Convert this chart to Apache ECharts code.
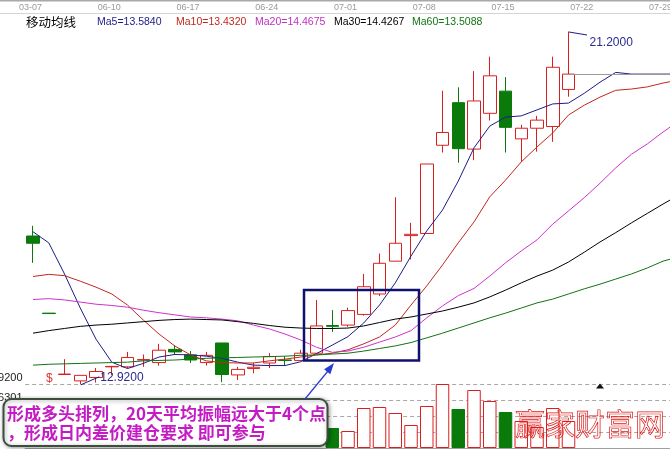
<!DOCTYPE html>
<html><head><meta charset="utf-8">
<script src="https://cdn.jsdelivr.net/npm/echarts/dist/echarts.min.js"></script>
<style>html,body{margin:0;padding:0;background:#fff;overflow:hidden}#c{width:670px;height:449px}</style>
</head><body><div id="c"></div>
<script>
// ---- data ----
const dates = ['03-07','06-04','06-05','06-06','06-09','06-10','06-11','06-12','06-13','06-16',
  '06-17','06-18','06-19','06-20','06-23','06-24','06-25','06-26','06-27','06-30',
  '07-01','07-02','07-03','07-04','07-07','07-08','07-09','07-10','07-11','07-14',
  '07-15','07-16','07-17','07-18','07-21','07-22','07-23','07-24','07-25','07-28','07-29','07-30'];
// [open, close, low, high]
const candles = [
  [16.40,16.23,15.77,16.64],[14.59,14.58,14.58,14.59],[13.15,13.16,13.15,13.51],[13.00,13.13,12.92,13.13],
  [13.08,13.22,12.96,13.30],[13.33,13.34,13.14,13.35],[13.33,13.55,13.29,13.68],[13.49,13.50,13.33,13.62],
  [13.43,13.72,13.36,13.87],[13.74,13.68,13.61,13.84],[13.61,13.49,13.42,13.70],[13.43,13.60,13.36,13.68],
  [13.89,13.15,12.97,13.89],[13.14,13.27,13.02,13.33],[13.29,13.32,13.18,13.43],[13.42,13.57,13.30,13.65],
  [13.49,13.48,13.35,13.58],[13.48,13.65,13.47,13.73],[13.65,14.29,13.64,14.90],[14.30,14.28,14.15,14.66],
  [14.31,14.65,14.27,14.72],[14.56,15.21,14.53,15.51],[15.04,15.76,14.99,15.99],[15.81,16.23,15.81,17.31],
  [16.41,16.44,15.85,16.71],[16.46,18.09,16.46,18.09],[18.53,18.83,18.36,19.81],[19.53,18.45,18.12,19.89],
  [18.44,19.57,18.18,20.27],[19.28,20.16,19.11,20.61],[19.80,18.95,18.36,20.13],[18.68,18.93,18.14,19.01],
  [18.93,19.12,18.38,19.22],[18.97,20.36,18.61,20.61],[19.84,20.20,19.67,21.20]
];
const ma5  = [16.50,16.24,15.51,14.71,13.98,13.44,13.29,13.41,13.56,13.62,13.61,13.58,13.53,13.44,13.37,13.36,13.36,13.45,13.64,13.84,14.04,14.36,14.78,15.30,15.93,16.52,17.01,17.69,18.47,18.98,19.19,19.22,19.36,19.50,19.52,19.75,20.01,20.24,20.20,20.20,20.20,20.20];
const ma10 = [15.45,15.50,15.47,15.34,15.20,15.04,14.78,14.43,14.10,13.82,13.61,13.47,13.43,13.42,13.42,13.47,13.51,13.56,13.61,13.65,13.73,13.87,14.03,14.31,14.78,15.23,15.72,16.24,16.73,17.32,17.71,18.14,18.49,18.82,19.24,19.47,19.66,19.82,19.85,19.90,19.99,20.06];
const ma20 = [14.91,14.93,14.90,14.85,14.80,14.77,14.73,14.66,14.60,14.55,14.50,14.48,14.45,14.41,14.31,14.22,14.10,13.96,13.79,13.67,13.70,13.79,13.91,14.03,14.18,14.48,14.76,15.00,15.17,15.46,15.77,16.05,16.31,16.68,16.99,17.30,17.64,18.00,18.32,18.56,18.84,19.10];
const ma30 = [14.12,14.18,14.23,14.28,14.31,14.33,14.36,14.39,14.42,14.44,14.45,14.44,14.43,14.39,14.35,14.30,14.26,14.24,14.23,14.23,14.24,14.29,14.37,14.45,14.50,14.57,14.64,14.73,14.83,14.97,15.13,15.30,15.46,15.60,15.79,16.02,16.26,16.48,16.71,16.93,17.15,17.36];
const ma60 = [13.37,13.39,13.40,13.41,13.42,13.43,13.44,13.47,13.48,13.49,13.51,13.53,13.54,13.55,13.56,13.57,13.58,13.60,13.61,13.63,13.65,13.70,13.76,13.82,13.90,14.01,14.12,14.24,14.36,14.48,14.59,14.71,14.83,14.92,15.04,15.16,15.27,15.39,15.51,15.65,15.81,15.91];
// volume (earlier days hidden behind the note box)
const volumes = [null,null,null,null,null,null,null,null,null,null,null,null,null,null,null,null,null,null,null,
  20,17,40,41,35,23,42,64,39,58,47,36,27,21,40,27];
const maNames  = ['Ma5','Ma10','Ma20','Ma30','Ma60'];
const maValues = ['13.5840','13.4320','14.4675','14.4267','13.5088'];
const extremes = [[34,21.20,'21.2000'],[3,12.92,'12.9200']];
const lastClose = 20.20;
const axisPriceLabels = ['12.9200','126301'];
const noteLines = ['形成多头排列，20天平均振幅远大于4个点','，形成日内差价建仓要求 即可参与'];
const watermark = '赢家财富网';

// ---- styles ----
const UP='#d82020', DOWN='#0a7a0a';
const maColors=['#1c1c88','#c0281e','#cc33cc','#000000','#137313'];
const SANS="Arial,'Liberation Sans',sans-serif";
const GL=25.125, GW=661.5;

const chart = echarts.init(document.getElementById('c'));
const isUp = (i)=>{const c=candles[i]; if(c[1]!==c[0]) return c[1]>c[0]; return i>0 ? candles[i-1][1]<=c[1] : true;};

const maSeries = [ma5,ma10,ma20,ma30,ma60].map((d,k)=>({
  type:'line', name:maNames[k], data:d, xAxisIndex:0, yAxisIndex:0, showSymbol:false, symbol:'none',
  lineStyle:{color:maColors[k], width:1}, itemStyle:{color:maColors[k]}, z:3, silent:true, animation:false
}));

const graphics = [
  {type:'line', shape:{x1:0,y1:0.5,x2:670,y2:0.5}, style:{stroke:'#a8a8a8',lineWidth:2}},
  {type:'line', shape:{x1:0,y1:13.5,x2:670,y2:13.5}, style:{stroke:'#d4d4d4',lineWidth:1}},
  {type:'text', x:26, y:22, style:{text:'移动均线', fill:'#000', font:"12.5px 'Noto Sans CJK SC'", verticalAlign:'middle'}}
];
const maX=[97,176,255,334,412];
maNames.forEach((n,k)=>graphics.push({type:'text', x:maX[k], y:22,
  style:{text:n+'='+maValues[k], fill:maColors[k]==='#cc33cc'?'#c030c0':maColors[k], font:'10.5px '+SANS, verticalAlign:'middle'}}));
graphics.push(
  {type:'text', x:22.5, y:378, style:{text:axisPriceLabels[0], fill:'#222', font:'11px '+SANS, align:'right', verticalAlign:'middle'}},
  {type:'text', x:22.5, y:398, style:{text:axisPriceLabels[1], fill:'#222', font:'11px '+SANS, align:'right', verticalAlign:'middle'}},
  {type:'text', x:46, y:378.5, style:{text:'$', fill:'#e03030', font:'12px Arial', verticalAlign:'middle'}},
  {type:'rect', shape:{x:304,y:290,width:115,height:70.5}, style:{fill:'none',stroke:'#10106e',lineWidth:2.5}, z:50},
  {type:'rect', shape:{x:3.5,y:399,width:324,height:47,r:8}, style:{fill:'#fff',stroke:'#3d4d3d',lineWidth:2,shadowBlur:4,shadowColor:'rgba(0,0,0,0.35)',shadowOffsetX:1,shadowOffsetY:1}, z:60},
  {type:'text', x:7, y:414, style:{text:noteLines[0], fill:'#c41cc4', font:"bold 17px 'Noto Sans CJK SC'", verticalAlign:'middle'}, z:61},
  {type:'text', x:7, y:432.5, style:{text:noteLines[1], fill:'#c41cc4', font:"bold 17px 'Noto Sans CJK SC'", verticalAlign:'middle'}, z:61},
  {type:'line', shape:{x1:305,y1:399,x2:328,y2:371}, style:{stroke:'#2a3ad0',lineWidth:1.2}, z:62},
  {type:'polygon', shape:{points:[[334,363],[330.3,374.2],[324.1,369.2]]}, style:{fill:'#2a3ad0'}, z:62},
  {type:'text', x:515, y:424, style:{text:watermark, fill:'rgba(255,255,255,0)', stroke:'#e01818', lineWidth:0.7, font:"30px 'Noto Sans CJK SC'", verticalAlign:'middle'}, z:70}
);

const option = {
  animation:false,
  backgroundColor:'#fff',
  grid:[{left:GL,width:GW,top:31.5,height:352.8,outerBoundsMode:'none',containLabel:false},
        {left:GL,width:GW,top:384,height:64,outerBoundsMode:'none',containLabel:false}],
  xAxis:[
    {type:'category', data:dates, gridIndex:0, position:'top', boundaryGap:true,
     axisLine:{show:false}, axisTick:{show:false}, splitLine:{show:false},
     axisLabel:{interval:4, margin:19, fontSize:9, color:'#9a9a9a', fontFamily:SANS, padding:[0,5,0,0], hideOverlap:false}},
    {type:'category', data:dates, gridIndex:1, boundaryGap:true,
     axisLine:{show:true, lineStyle:{color:'#a0a0a0'}}, axisTick:{show:false}, axisLabel:{show:false}, splitLine:{show:false}}
  ],
  yAxis:[
    {type:'value', gridIndex:0, min:12.92, max:21.2, show:false},
    {type:'value', gridIndex:1, min:0, max:64, interval:16, axisLine:{show:false}, axisTick:{show:false},
     axisLabel:{show:false}, splitLine:{show:true, lineStyle:{type:[4,3], color:'#a8a8a8', width:1}}}
  ],
  graphic: graphics,
  series:[
    {type:'candlestick', name:'K', data:candles, xAxisIndex:0, yAxisIndex:0, barWidth:13, z:2,
     itemStyle:{color:'rgba(255,255,255,0)', color0:DOWN, borderColor:UP, borderColor0:DOWN, borderWidth:1},
     markLine:{silent:true, symbol:['none','none'], label:{show:false}, animation:false,
       lineStyle:{color:'#9a9a9a', type:'solid', width:1},
       data:[[{coord:[dates[candles.length-1], lastClose]},{coord:[dates[dates.length-1], lastClose]}]]}},
    ...maSeries,
    {type:'bar', name:'VOL', xAxisIndex:1, yAxisIndex:1, barWidth:13.5, z:2,
     data: volumes.map((v,i)=> v==null ? '-' : {value:v, itemStyle: isUp(i)
        ? {color:'#fff', borderColor:UP, borderWidth:1}
        : {color:DOWN, borderColor:DOWN, borderWidth:1}}),
     markPoint:{silent:true, symbol:'triangle', symbolSize:[8,5], label:{show:false}, itemStyle:{color:'#111'},
       data:[{coord:['07-23',62]}]}},
    {type:'custom', name:'extremes', xAxisIndex:0, yAxisIndex:0, clip:false, z:5, silent:true,
     data: extremes.map(e=>[e[0],e[1]]),
     renderItem:(params, api)=>{
       const p = api.coord([api.value(0), api.value(1)]);
       const hi = params.dataIndex===0;
       const end = hi ? [p[0]+18.5,p[1]+3.5] : [p[0]+19,p[1]-7.5];
       const tp = hi ? [p[0]+21,p[1]+11] : [p[0]+20,p[1]-6.5];
       return {type:'group', children:[
         {type:'polyline', shape:{points:[[p[0]+0.5,p[1]+0.5],end]}, style:{stroke:'#1c1c88', fill:null, lineWidth:1}},
         {type:'text', style:{text:extremes[params.dataIndex][2], x:tp[0], y:tp[1], fill:'#2a2a90',
           font:'12px Arial', align:'left', verticalAlign:'middle'}}
       ]};
     }}
  ]
};
chart.setOption(option);
</script>
</body></html>
